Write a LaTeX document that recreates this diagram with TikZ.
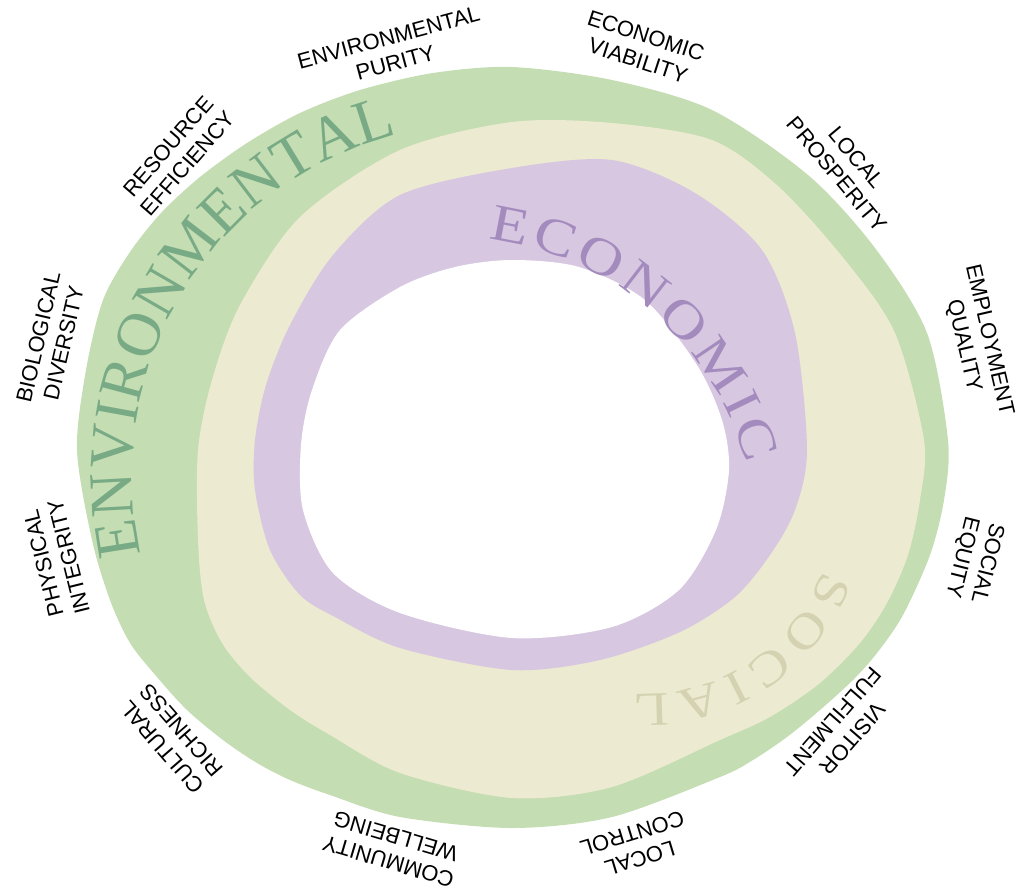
\documentclass[tikz,border=0pt]{standalone}
\usepackage{fontspec}
\usepackage{tikz}
\usetikzlibrary{decorations.text}
\newfontfamily\lblfont{Liberation Sans}
\newfontfamily\wordfont{Liberation Serif}
\newfontfamily\widefont[FakeStretch=1.2]{Liberation Serif}
\definecolor{ringgreen}{HTML}{C4DDB2}
\definecolor{ringcream}{HTML}{ECEAD1}
\definecolor{ringpurple}{HTML}{D8C7E1}
\definecolor{envword}{HTML}{78AA86}
\definecolor{ecoword}{HTML}{A48BBE}
\definecolor{socword}{HTML}{D4D2B0}

\begin{document}
\begin{tikzpicture}[x=0.5pt,y=-0.5pt,
  lbl/.style={font=\lblfont\fontsize{11}{13}\selectfont,align=center,inner sep=0pt}]
  \useasboundingbox (0,0) rectangle (1024,891);
  % rings, outside in
  \fill[ringgreen] plot[smooth cycle] coordinates {(512,67) (612,80) (712,110) (808,175) (875,248) (927,333) (948,440) (944,500) (930,555) (903,615) (877,653) (853,680) (820,710) (787,737) (753,760) (720,777) (612,817) (512,828) (400,817) (330,795) (290,780) (257,763) (223,740) (187,710) (157,677) (130,643) (110,600) (92,540) (77,450) (86,370) (103,300) (130,252) (162,212) (200,177) (247,143) (300,113) (360,90) (433,73)};
  \fill[ringcream] plot[smooth cycle] coordinates {(512,122) (612,123) (712,140) (779,187) (845,260) (895,333) (924,440) (920,500) (908,555) (887,603) (860,643) (820,683) (770,717) (720,740) (612,787) (512,798) (400,773) (330,735) (290,710) (250,677) (222,643) (204,600) (198,540) (198,450) (212,380) (240,305) (300,217) (400,150)};
  \fill[ringpurple] plot[smooth cycle] coordinates {(512,168) (612,160) (695,193) (762,250) (795,333) (807,450) (795,510) (770,555) (735,597) (680,632) (600,660) (512,670) (400,648) (335,617) (300,595) (270,550) (255,490) (255,440) (266,385) (290,325) (333,255) (400,195)};
  \fill[white] plot[smooth cycle] coordinates {(512,260) (579,267) (645,300) (697,365) (722,420) (729,470) (716,530) (679,590) (612,627) (512,638) (400,613) (333,573) (303,510) (301,445) (312,390) (340,330) (400,287) (455,267)};
  % ring words
  \path[decorate,decoration={text along path,text align={fit to path},text color=envword,
    text={|\wordfont\fontsize{31}{31}\selectfont|ENVIRONMENTAL}}]
    plot[domain=193:104,samples=60] ({483+351*cos(\x)},{475-351*sin(\x)});
  \path[decorate,decoration={text along path,text align={fit to path},text color=ecoword,
    text={|\widefont\fontsize{26}{26}\selectfont|ECONOMIC}}]
    plot[domain=83:15,samples=60] ({451+306*cos(\x)},{543-306*sin(\x)});
  \path[decorate,decoration={text along path,text align={fit to path},text color=socword,
    text={|\widefont\fontsize{24}{24}\selectfont|SOCIAL}}]
    plot[domain=-20:-94,samples=60] ({646+188*cos(\x)},{506-188*sin(\x)});
  % labels round the rim
  \foreach \x/\y/\ang/\txt/\nm in {
      392/50/15/{ENVIRONMENTAL\\PURITY}/envpur,
      642/48/-18/{ECONOMIC\\VIABILITY}/ecovia,
      847/166/-50/{LOCAL\\PROSPERITY}/locpro,
      976/343/-77/{EMPLOYMENT\\QUALITY}/empqua,
      974/560/-104/{SOCIAL\\EQUITY}/soceq,
      843/730/-131/{VISITOR\\FULFILMENT}/visful,
      636/846/-163/{LOCAL\\CONTROL}/locctl,
      392/849/163.5/{COMMUNITY\\WELLBEING}/comwel,
      172/739/131/{CULTURAL\\RICHNESS}/culric,
      56/560/104/{PHYSICAL\\INTEGRITY}/phyint,
      51/340/77/{BIOLOGICAL\\DIVERSITY}/biodiv,
      178/155/49/{RESOURCE\\EFFICIENCY}/reseff}
    \node[lbl,rotate=\ang] (\nm) at (\x,\y) {\txt};
\end{tikzpicture}
\end{document}
